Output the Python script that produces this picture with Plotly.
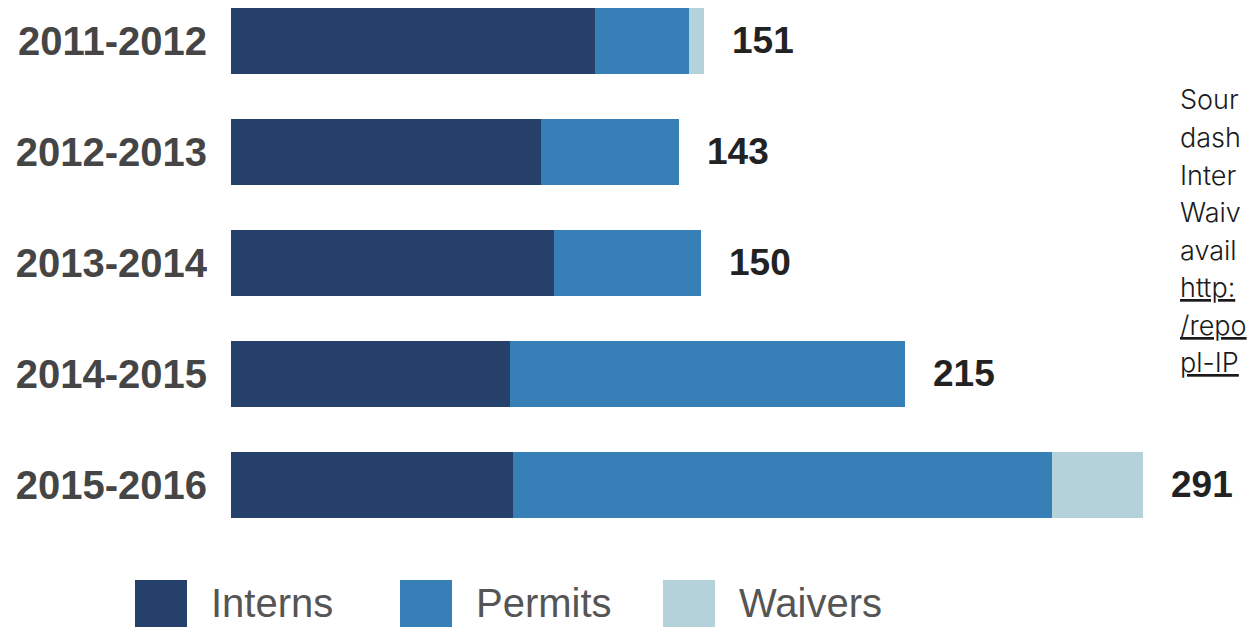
import plotly.graph_objects as go

# Staff counts by school year, split by credential type
years = ["2011-2012", "2012-2013", "2013-2014", "2014-2015", "2015-2016"]
interns = [116, 99, 103, 89, 90]
permits = [30, 44, 47, 126, 172]
waivers = [5, 0, 0, 0, 29]
totals = [151, 143, 150, 215, 291]

series_names = ["Interns", "Permits", "Waivers"]
series_values = [interns, permits, waivers]
series_colors = ["#24406b", "#3680b7", "#b3d2d9"]

source_lines = ["Sour", "dash", "Inter", "Waiv", "avail",
                "<u>http:</u>", "<u>/repo</u>", "<u>pl-IP</u>"]

W, H = 1248, 627
ML, MR, MT, MB = 231, 0, 0, 72
PLOT_W = W - ML - MR
PLOT_H = H - MT - MB


def px_x(px):
    return (px - ML) / PLOT_W


def px_y(py):
    return 1 - (py - MT) / PLOT_H


fig = go.Figure()
for name, vals, color in zip(series_names, series_values, series_colors):
    fig.add_trace(go.Bar(
        y=years, x=vals, name=name, orientation="h",
        marker=dict(color=color, line=dict(width=0)),
        width=0.6, showlegend=False, hoverinfo="x+name",
    ))

# Totals at the end of each bar
for yr, tot in zip(years, totals):
    fig.add_annotation(
        x=tot, y=yr, xref="x", yref="y", text=str(tot), showarrow=False,
        xanchor="left", xshift=26,
        font=dict(family="Liberation Sans", size=37, color="#222222", weight="bold"),
    )

# Legend row drawn as swatches and labels along the bottom
legend_left = [135, 400, 663]
for name, color, left in zip(series_names, series_colors, legend_left):
    fig.add_shape(
        type="rect", xref="paper", yref="paper",
        x0=px_x(left), x1=px_x(left + 52), y0=px_y(580), y1=px_y(640),
        fillcolor=color, line=dict(width=0), layer="above",
    )
    fig.add_annotation(
        x=px_x(left + 74), y=px_y(603), xref="paper", yref="paper",
        text=name, showarrow=False, xanchor="left", yanchor="middle",
        font=dict(family="Liberation Sans", size=40, color="#555555"),
    )

# Source note along the right edge, one line per annotation
for i, line in enumerate(source_lines):
    fig.add_annotation(
        x=px_x(1178), y=px_y(100 + 37.5 * i), xref="paper", yref="paper",
        text=line, showarrow=False, xanchor="left", yanchor="middle",
        font=dict(family="Inter", size=27, color="#1a1a1a", weight=300),
    )

fig.update_layout(
    barmode="stack",
    width=W, height=H,
    margin=dict(l=ML, r=MR, t=MT, b=MB),
    paper_bgcolor="white", plot_bgcolor="white",
    xaxis=dict(range=[0, PLOT_W / 3.135], visible=False, fixedrange=True),
    yaxis=dict(
        categoryorder="array", categoryarray=years,
        range=[PLOT_H / 111 - 0.369, -0.369],
        showgrid=False, zeroline=False, showline=False, ticks="",
        ticklabelstandoff=23,
        tickfont=dict(family="Liberation Sans", size=40, color="#454545", weight="bold"),
        fixedrange=True,
    ),
)

fig.write_html("out.html", config={"displayModeBar": False})
